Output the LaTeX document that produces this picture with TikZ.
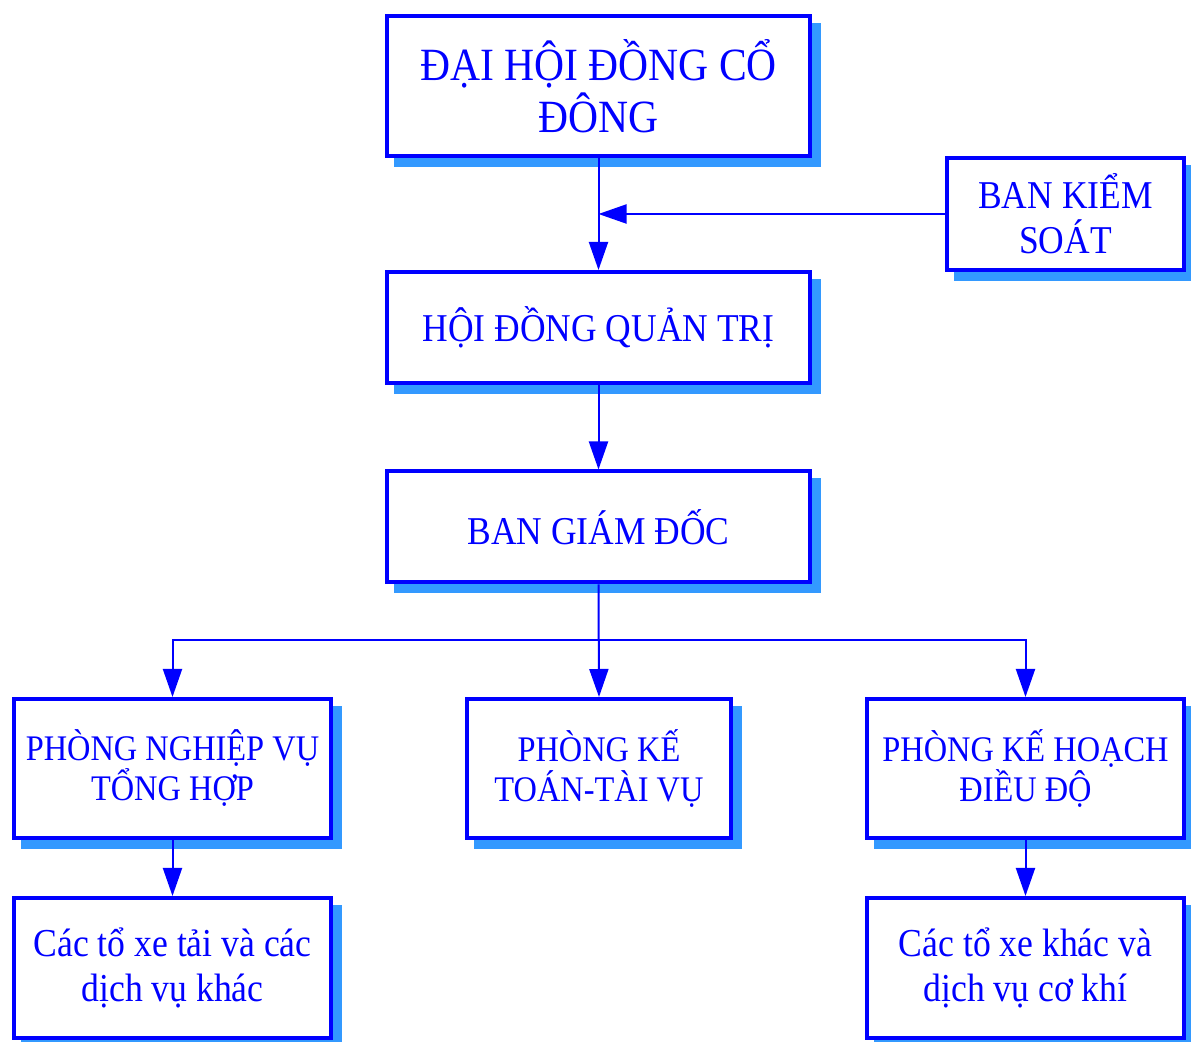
\documentclass[tikz,border=0pt]{standalone}
\usepackage{fontspec}
\setmainfont[FakeStretch=0.9]{Liberation Serif}
\usepackage{tikz}
\usetikzlibrary{arrows.meta,positioning,shadows}
\definecolor{cline}{RGB}{0,0,255}
\definecolor{cshade}{HTML}{3399FF}
\tikzset{
  box/.style={draw=cline, line width=2pt, fill=white, text=cline, align=center,
    inner sep=0pt, minimum width=211.5pt, minimum height=55.5pt,
    font=\fontsize{19.7}{20}\selectfont,
    drop shadow={shadow xshift=4.5pt, shadow yshift=-4.5pt, fill=cshade, draw=cshade, line width=2pt, opacity=1}},
  topbox/.style={box, minimum height=70pt, font=\fontsize{23.1}{26}\selectfont},
  dept/.style={box, minimum width=158.5pt, minimum height=69.5pt, font=\fontsize{18}{20}\selectfont},
  teamn/.style={dept, minimum height=70pt, font=\fontsize{19.8}{22.5}\selectfont},
  pre/.style={-{Triangle[length=14pt, width=9.5pt]}, line width=1pt, draw=cline},
}

\begin{document}
\begin{tikzpicture}[x=0.5pt,y=-0.5pt]
\useasboundingbox (0,0) rectangle (1191,1042);
% ---------------- top levels
\node[topbox] (dhdcd) at (598.5,86) {ĐẠI HỘI ĐỒNG CỔ\\ĐÔNG};
\node[box, minimum width=118.5pt, minimum height=56pt, font=\fontsize{19.7}{22.5}\selectfont] (bks) at (1065.5,214) {BAN KIỂM\\SOÁT};
\node[box] (hdqt) at (598.5,327.5) {HỘI ĐỒNG QUẢN TRỊ};
\node[box] (bgd) at (598.5,527) {BAN GIÁM ĐỐC};
% ---------------- departments
\node[dept] (pnv) at (172.5,768.5) {PHÒNG NGHIỆP VỤ\\TỔNG HỢP};
\node[dept, minimum width=132pt] (pkt) at (599,768.5) {PHÒNG KẾ\\TOÁN-TÀI VỤ};
\node[dept] (pkh) at (1025.5,768.5) {PHÒNG KẾ HOẠCH\\ĐIỀU ĐỘ};
\node[teamn] (xetai) at (172.5,968) {Các tổ xe tải và các\\dịch vụ khác};
\node[teamn] (xekhac) at (1025.5,968) {Các tổ xe khác và\\dịch vụ cơ khí};
% ---------------- connectors
\coordinate (split) at (598.5,640);
\draw[pre] (dhdcd.south) -- (hdqt.north);
\draw[pre] (bks.west) -- (bks.west -| hdqt.north);
\draw[pre] (hdqt.south) -- (bgd.north);
\draw[pre] (bgd.south) -- (pkt.north);
\draw[pre] (split) -| (pnv.north);
\draw[pre] (split) -| (pkh.north);
\draw[pre] (pnv.south) -- (xetai.north);
\draw[pre] (pkh.south) -- (xekhac.north);
\end{tikzpicture}
\end{document}
